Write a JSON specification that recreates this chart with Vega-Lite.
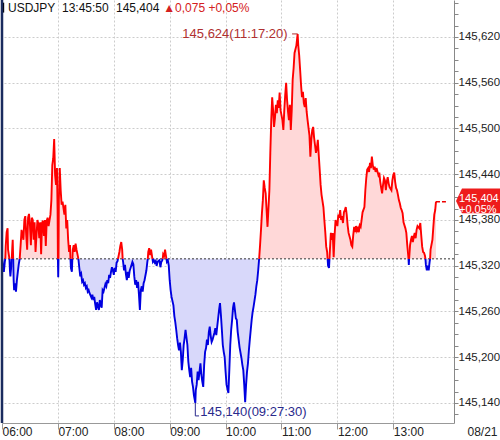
{
"$schema":"https://vega.github.io/schema/vega-lite/v6.json",
"autosize":{"type":"none"},
"padding":{"left":2,"right":46,"top":0,"bottom":17},
"width":452,"height":423,
"background":"white",
"config":{"font":"Liberation Sans","view":{"stroke":null},"locale":{"number":{"decimal":",","thousands":".","grouping":[3],"currency":["",""]}}},
"resolve":{"axis":{"y":"independent"}},
"layer":[
{"data":{"format":{"parse":{"t":"utc:'%H:%M:%S'"}},"values":[
{"t":"06:00:00","p":145.329,"s":"d","g":1},{"t":"06:01:00","p":145.320,"s":"d","g":1},{"t":"06:02:00","p":145.312,"s":"d","g":1},{"t":"06:03:00","p":145.325,"s":"d","g":1},{"t":"06:03:30","p":145.329,"s":"d","g":1},
{"t":"06:03:30","p":145.329,"s":"u","g":2},{"t":"06:04:00","p":145.346,"s":"u","g":2},{"t":"06:05:00","p":145.364,"s":"u","g":2},{"t":"06:06:00","p":145.369,"s":"u","g":2},{"t":"06:06:30","p":145.341,"s":"u","g":2},{"t":"06:08:00","p":145.329,"s":"u","g":2},
{"t":"06:08:00","p":145.329,"s":"d","g":3},{"t":"06:08:30","p":145.314,"s":"d","g":3},{"t":"06:09:00","p":145.306,"s":"d","g":3},{"t":"06:10:00","p":145.320,"s":"d","g":3},{"t":"06:10:30","p":145.329,"s":"d","g":3},
{"t":"06:10:30","p":145.329,"s":"u","g":4},{"t":"06:11:00","p":145.343,"s":"u","g":4},{"t":"06:11:30","p":145.354,"s":"u","g":4},{"t":"06:12:00","p":145.329,"s":"u","g":4},
{"t":"06:12:00","p":145.329,"s":"d","g":5},{"t":"06:12:30","p":145.301,"s":"d","g":5},{"t":"06:13:00","p":145.288,"s":"d","g":5},{"t":"06:14:00","p":145.297,"s":"d","g":5},{"t":"06:15:00","p":145.286,"s":"d","g":5},{"t":"06:16:00","p":145.301,"s":"d","g":5},{"t":"06:17:00","p":145.312,"s":"d","g":5},{"t":"06:18:00","p":145.322,"s":"d","g":5},{"t":"06:19:00","p":145.329,"s":"d","g":5},
{"t":"06:19:00","p":145.329,"s":"u","g":6},{"t":"06:20:00","p":145.347,"s":"u","g":6},{"t":"06:21:00","p":145.367,"s":"u","g":6},{"t":"06:23:00","p":145.354,"s":"u","g":6},{"t":"06:24:00","p":145.380,"s":"u","g":6},{"t":"06:25:00","p":145.385,"s":"u","g":6},{"t":"06:26:00","p":145.360,"s":"u","g":6},{"t":"06:27:00","p":145.341,"s":"u","g":6},{"t":"06:28:00","p":145.383,"s":"u","g":6},{"t":"06:29:00","p":145.388,"s":"u","g":6},{"t":"06:30:00","p":145.373,"s":"u","g":6},{"t":"06:31:00","p":145.347,"s":"u","g":6},{"t":"06:32:00","p":145.383,"s":"u","g":6},{"t":"06:33:00","p":145.380,"s":"u","g":6},{"t":"06:34:00","p":145.354,"s":"u","g":6},{"t":"06:35:00","p":145.377,"s":"u","g":6},{"t":"06:36:00","p":145.338,"s":"u","g":6},{"t":"06:38:00","p":145.380,"s":"u","g":6},{"t":"06:39:00","p":145.375,"s":"u","g":6},{"t":"06:40:00","p":145.356,"s":"u","g":6},{"t":"06:41:00","p":145.377,"s":"u","g":6},{"t":"06:42:00","p":145.335,"s":"u","g":6},{"t":"06:43:00","p":145.376,"s":"u","g":6},{"t":"06:44:00","p":145.379,"s":"u","g":6},{"t":"06:45:00","p":145.359,"s":"u","g":6},{"t":"06:46:00","p":145.380,"s":"u","g":6},{"t":"06:47:00","p":145.346,"s":"u","g":6},{"t":"06:48:00","p":145.379,"s":"u","g":6},{"t":"06:49:00","p":145.383,"s":"u","g":6},{"t":"06:50:00","p":145.372,"s":"u","g":6},{"t":"06:52:00","p":145.387,"s":"u","g":6},{"t":"06:53:00","p":145.406,"s":"u","g":6},{"t":"06:54:00","p":145.452,"s":"u","g":6},{"t":"06:55:00","p":145.461,"s":"u","g":6},{"t":"06:56:00","p":145.486,"s":"u","g":6},{"t":"06:57:00","p":145.439,"s":"u","g":6},{"t":"06:58:00","p":145.426,"s":"u","g":6},{"t":"06:59:00","p":145.448,"s":"u","g":6},{"t":"06:59:40","p":145.393,"s":"u","g":6},{"t":"07:00:00","p":145.329,"s":"u","g":6},
{"t":"07:00:00","p":145.329,"s":"d","g":7},{"t":"07:00:20","p":145.305,"s":"d","g":7},{"t":"07:00:40","p":145.329,"s":"d","g":7},
{"t":"07:00:40","p":145.329,"s":"u","g":8},{"t":"07:01:00","p":145.406,"s":"u","g":8},{"t":"07:02:00","p":145.448,"s":"u","g":8},{"t":"07:03:00","p":145.419,"s":"u","g":8},{"t":"07:04:00","p":145.400,"s":"u","g":8},{"t":"07:05:00","p":145.404,"s":"u","g":8},{"t":"07:07:00","p":145.387,"s":"u","g":8},{"t":"07:08:00","p":145.400,"s":"u","g":8},{"t":"07:09:00","p":145.369,"s":"u","g":8},{"t":"07:10:00","p":145.380,"s":"u","g":8},{"t":"07:11:00","p":145.354,"s":"u","g":8},{"t":"07:12:00","p":145.338,"s":"u","g":8},{"t":"07:13:00","p":145.347,"s":"u","g":8},{"t":"07:13:30","p":145.329,"s":"u","g":8},
{"t":"07:13:30","p":145.329,"s":"d","g":9},{"t":"07:14:00","p":145.317,"s":"d","g":9},{"t":"07:15:00","p":145.312,"s":"d","g":9},{"t":"07:15:30","p":145.329,"s":"d","g":9},
{"t":"07:15:30","p":145.329,"s":"u","g":10},{"t":"07:16:00","p":145.341,"s":"u","g":10},{"t":"07:17:00","p":145.347,"s":"u","g":10},{"t":"07:18:00","p":145.338,"s":"u","g":10},{"t":"07:19:00","p":145.349,"s":"u","g":10},{"t":"07:20:00","p":145.341,"s":"u","g":10},{"t":"07:22:00","p":145.329,"s":"u","g":10},
{"t":"07:22:00","p":145.329,"s":"d","g":11},{"t":"07:23:00","p":145.317,"s":"d","g":11},{"t":"07:24:00","p":145.306,"s":"d","g":11},{"t":"07:25:00","p":145.309,"s":"d","g":11},{"t":"07:26:00","p":145.299,"s":"d","g":11},{"t":"07:27:00","p":145.301,"s":"d","g":11},{"t":"07:28:00","p":145.295,"s":"d","g":11},{"t":"07:29:00","p":145.297,"s":"d","g":11},{"t":"07:30:00","p":145.291,"s":"d","g":11},{"t":"07:31:00","p":145.293,"s":"d","g":11},{"t":"07:32:00","p":145.286,"s":"d","g":11},{"t":"07:33:00","p":145.288,"s":"d","g":11},{"t":"07:34:00","p":145.284,"s":"d","g":11},{"t":"07:36:00","p":145.278,"s":"d","g":11},{"t":"07:37:00","p":145.282,"s":"d","g":11},{"t":"07:38:00","p":145.275,"s":"d","g":11},{"t":"07:39:00","p":145.279,"s":"d","g":11},{"t":"07:40:00","p":145.270,"s":"d","g":11},{"t":"07:41:00","p":145.262,"s":"d","g":11},{"t":"07:42:00","p":145.272,"s":"d","g":11},{"t":"07:43:00","p":145.267,"s":"d","g":11},{"t":"07:44:00","p":145.262,"s":"d","g":11},{"t":"07:45:00","p":145.275,"s":"d","g":11},{"t":"07:46:00","p":145.268,"s":"d","g":11},{"t":"07:47:00","p":145.265,"s":"d","g":11},{"t":"07:48:00","p":145.288,"s":"d","g":11},{"t":"07:49:00","p":145.286,"s":"d","g":11},{"t":"07:51:00","p":145.296,"s":"d","g":11},{"t":"07:52:00","p":145.293,"s":"d","g":11},{"t":"07:53:00","p":145.301,"s":"d","g":11},{"t":"07:54:00","p":145.297,"s":"d","g":11},{"t":"07:55:00","p":145.308,"s":"d","g":11},{"t":"07:56:00","p":145.304,"s":"d","g":11},{"t":"07:57:00","p":145.312,"s":"d","g":11},{"t":"07:58:00","p":145.318,"s":"d","g":11},{"t":"07:59:00","p":145.314,"s":"d","g":11},{"t":"08:00:00","p":145.308,"s":"d","g":11},{"t":"08:01:00","p":145.317,"s":"d","g":11},{"t":"08:02:00","p":145.312,"s":"d","g":11},{"t":"08:03:00","p":145.324,"s":"d","g":11},{"t":"08:04:00","p":145.326,"s":"d","g":11},{"t":"08:04:30","p":145.329,"s":"d","g":11},
{"t":"08:04:30","p":145.329,"s":"u","g":12},{"t":"08:06:00","p":145.338,"s":"u","g":12},{"t":"08:07:00","p":145.346,"s":"u","g":12},{"t":"08:08:00","p":145.351,"s":"u","g":12},{"t":"08:09:00","p":145.341,"s":"u","g":12},{"t":"08:09:30","p":145.329,"s":"u","g":12},
{"t":"08:09:30","p":145.329,"s":"d","g":13},{"t":"08:10:00","p":145.325,"s":"d","g":13},{"t":"08:11:00","p":145.314,"s":"d","g":13},{"t":"08:12:00","p":145.321,"s":"d","g":13},{"t":"08:13:00","p":145.309,"s":"d","g":13},{"t":"08:14:00","p":145.301,"s":"d","g":13},{"t":"08:15:00","p":145.312,"s":"d","g":13},{"t":"08:16:00","p":145.304,"s":"d","g":13},{"t":"08:17:00","p":145.313,"s":"d","g":13},{"t":"08:18:00","p":145.317,"s":"d","g":13},{"t":"08:20:00","p":145.325,"s":"d","g":13},{"t":"08:21:00","p":145.322,"s":"d","g":13},{"t":"08:22:00","p":145.306,"s":"d","g":13},{"t":"08:23:00","p":145.295,"s":"d","g":13},{"t":"08:24:00","p":145.301,"s":"d","g":13},{"t":"08:25:00","p":145.291,"s":"d","g":13},{"t":"08:26:00","p":145.299,"s":"d","g":13},{"t":"08:27:00","p":145.282,"s":"d","g":13},{"t":"08:28:00","p":145.262,"s":"d","g":13},{"t":"08:29:00","p":145.288,"s":"d","g":13},{"t":"08:30:00","p":145.293,"s":"d","g":13},{"t":"08:31:00","p":145.286,"s":"d","g":13},{"t":"08:32:00","p":145.297,"s":"d","g":13},{"t":"08:33:00","p":145.301,"s":"d","g":13},{"t":"08:35:00","p":145.314,"s":"d","g":13},{"t":"08:36:00","p":145.325,"s":"d","g":13},{"t":"08:36:30","p":145.329,"s":"d","g":13},
{"t":"08:36:30","p":145.329,"s":"u","g":14},{"t":"08:37:00","p":145.338,"s":"u","g":14},{"t":"08:38:00","p":145.343,"s":"u","g":14},{"t":"08:39:00","p":145.334,"s":"u","g":14},{"t":"08:40:00","p":145.341,"s":"u","g":14},{"t":"08:41:00","p":145.333,"s":"u","g":14},{"t":"08:41:30","p":145.329,"s":"u","g":14},
{"t":"08:41:30","p":145.329,"s":"d","g":15},{"t":"08:42:00","p":145.325,"s":"d","g":15},{"t":"08:43:00","p":145.327,"s":"d","g":15},{"t":"08:44:00","p":145.324,"s":"d","g":15},{"t":"08:45:00","p":145.326,"s":"d","g":15},{"t":"08:46:00","p":145.320,"s":"d","g":15},{"t":"08:47:00","p":145.325,"s":"d","g":15},{"t":"08:49:00","p":145.327,"s":"d","g":15},{"t":"08:50:00","p":145.318,"s":"d","g":15},{"t":"08:51:00","p":145.325,"s":"d","g":15},{"t":"08:52:00","p":145.327,"s":"d","g":15},{"t":"08:52:30","p":145.329,"s":"d","g":15},
{"t":"08:52:30","p":145.329,"s":"u","g":16},{"t":"08:53:00","p":145.335,"s":"u","g":16},{"t":"08:54:00","p":145.333,"s":"u","g":16},{"t":"08:55:00","p":145.341,"s":"u","g":16},{"t":"08:56:00","p":145.333,"s":"u","g":16},{"t":"08:56:30","p":145.329,"s":"u","g":16},
{"t":"08:56:30","p":145.329,"s":"d","g":17},{"t":"08:57:00","p":145.325,"s":"d","g":17},{"t":"08:58:00","p":145.327,"s":"d","g":17},{"t":"08:59:00","p":145.320,"s":"d","g":17},{"t":"09:00:00","p":145.301,"s":"d","g":17},{"t":"09:01:00","p":145.288,"s":"d","g":17},{"t":"09:02:00","p":145.279,"s":"d","g":17},{"t":"09:04:00","p":145.268,"s":"d","g":17},{"t":"09:05:00","p":145.254,"s":"d","g":17},{"t":"09:06:00","p":145.246,"s":"d","g":17},{"t":"09:07:00","p":145.236,"s":"d","g":17},{"t":"09:08:00","p":145.225,"s":"d","g":17},{"t":"09:09:00","p":145.216,"s":"d","g":17},{"t":"09:10:00","p":145.209,"s":"d","g":17},{"t":"09:11:00","p":145.219,"s":"d","g":17},{"t":"09:12:00","p":145.207,"s":"d","g":17},{"t":"09:13:00","p":145.183,"s":"d","g":17},{"t":"09:14:00","p":145.196,"s":"d","g":17},{"t":"09:15:00","p":145.216,"s":"d","g":17},{"t":"09:16:00","p":145.225,"s":"d","g":17},{"t":"09:17:00","p":145.236,"s":"d","g":17},{"t":"09:19:00","p":145.216,"s":"d","g":17},{"t":"09:20:00","p":145.194,"s":"d","g":17},{"t":"09:21:00","p":145.183,"s":"d","g":17},{"t":"09:22:00","p":145.174,"s":"d","g":17},{"t":"09:23:00","p":145.186,"s":"d","g":17},{"t":"09:24:00","p":145.168,"s":"d","g":17},{"t":"09:25:00","p":145.161,"s":"d","g":17},{"t":"09:26:00","p":145.150,"s":"d","g":17},{"t":"09:27:30","p":145.140,"s":"d","g":17},{"t":"09:28:00","p":145.157,"s":"d","g":17},{"t":"09:29:00","p":145.164,"s":"d","g":17},{"t":"09:30:00","p":145.181,"s":"d","g":17},{"t":"09:31:00","p":145.170,"s":"d","g":17},{"t":"09:33:00","p":145.192,"s":"d","g":17},{"t":"09:34:00","p":145.177,"s":"d","g":17},{"t":"09:35:00","p":145.168,"s":"d","g":17},{"t":"09:36:00","p":145.161,"s":"d","g":17},{"t":"09:37:00","p":145.190,"s":"d","g":17},{"t":"09:38:00","p":145.207,"s":"d","g":17},{"t":"09:39:00","p":145.212,"s":"d","g":17},{"t":"09:40:00","p":145.223,"s":"d","g":17},{"t":"09:41:00","p":145.216,"s":"d","g":17},{"t":"09:42:00","p":145.233,"s":"d","g":17},{"t":"09:43:00","p":145.240,"s":"d","g":17},{"t":"09:44:00","p":145.228,"s":"d","g":17},{"t":"09:45:00","p":145.220,"s":"d","g":17},{"t":"09:46:00","p":145.223,"s":"d","g":17},{"t":"09:48:00","p":145.232,"s":"d","g":17},{"t":"09:49:00","p":145.238,"s":"d","g":17},{"t":"09:50:00","p":145.229,"s":"d","g":17},{"t":"09:51:00","p":145.240,"s":"d","g":17},{"t":"09:52:00","p":145.251,"s":"d","g":17},{"t":"09:53:00","p":145.262,"s":"d","g":17},{"t":"09:54:00","p":145.271,"s":"d","g":17},{"t":"09:55:00","p":145.255,"s":"d","g":17},{"t":"09:56:00","p":145.236,"s":"d","g":17},{"t":"09:57:00","p":145.216,"s":"d","g":17},{"t":"09:58:00","p":145.207,"s":"d","g":17},{"t":"09:59:00","p":145.200,"s":"d","g":17},{"t":"10:00:00","p":145.181,"s":"d","g":17},{"t":"10:01:00","p":145.164,"s":"d","g":17},{"t":"10:03:00","p":145.153,"s":"d","g":17},{"t":"10:04:00","p":145.183,"s":"d","g":17},{"t":"10:05:00","p":145.216,"s":"d","g":17},{"t":"10:06:00","p":145.236,"s":"d","g":17},{"t":"10:07:00","p":145.249,"s":"d","g":17},{"t":"10:08:00","p":145.265,"s":"d","g":17},{"t":"10:09:00","p":145.272,"s":"d","g":17},{"t":"10:10:00","p":145.262,"s":"d","g":17},{"t":"10:11:00","p":145.251,"s":"d","g":17},{"t":"10:12:00","p":145.249,"s":"d","g":17},{"t":"10:13:00","p":145.233,"s":"d","g":17},{"t":"10:14:00","p":145.223,"s":"d","g":17},{"t":"10:15:00","p":145.213,"s":"d","g":17},{"t":"10:17:00","p":145.199,"s":"d","g":17},{"t":"10:18:00","p":145.190,"s":"d","g":17},{"t":"10:19:00","p":145.183,"s":"d","g":17},{"t":"10:20:00","p":145.164,"s":"d","g":17},{"t":"10:21:00","p":145.141,"s":"d","g":17},{"t":"10:22:00","p":145.164,"s":"d","g":17},{"t":"10:23:00","p":145.181,"s":"d","g":17},{"t":"10:24:00","p":145.192,"s":"d","g":17},{"t":"10:25:00","p":145.209,"s":"d","g":17},{"t":"10:26:00","p":145.223,"s":"d","g":17},{"t":"10:27:00","p":145.236,"s":"d","g":17},{"t":"10:28:00","p":145.249,"s":"d","g":17},{"t":"10:29:00","p":145.259,"s":"d","g":17},{"t":"10:30:00","p":145.266,"s":"d","g":17},{"t":"10:32:00","p":145.282,"s":"d","g":17},{"t":"10:33:00","p":145.293,"s":"d","g":17},{"t":"10:34:00","p":145.301,"s":"d","g":17},{"t":"10:35:00","p":145.314,"s":"d","g":17},{"t":"10:36:00","p":145.329,"s":"d","g":17},
{"t":"10:36:00","p":145.329,"s":"u","g":18},{"t":"10:37:00","p":145.347,"s":"u","g":18},{"t":"10:38:00","p":145.367,"s":"u","g":18},{"t":"10:39:00","p":145.389,"s":"u","g":18},{"t":"10:40:00","p":145.406,"s":"u","g":18},{"t":"10:41:00","p":145.432,"s":"u","g":18},{"t":"10:42:00","p":145.422,"s":"u","g":18},{"t":"10:43:00","p":145.415,"s":"u","g":18},{"t":"10:44:00","p":145.393,"s":"u","g":18},{"t":"10:45:00","p":145.371,"s":"u","g":18},{"t":"10:47:00","p":145.419,"s":"u","g":18},{"t":"10:48:00","p":145.468,"s":"u","g":18},{"t":"10:49:00","p":145.511,"s":"u","g":18},{"t":"10:50:00","p":145.541,"s":"u","g":18},{"t":"10:51:00","p":145.524,"s":"u","g":18},{"t":"10:52:00","p":145.502,"s":"u","g":18},{"t":"10:53:00","p":145.514,"s":"u","g":18},{"t":"10:54:00","p":145.531,"s":"u","g":18},{"t":"10:55:00","p":145.520,"s":"u","g":18},{"t":"10:56:00","p":145.537,"s":"u","g":18},{"t":"10:57:00","p":145.527,"s":"u","g":18},{"t":"10:58:00","p":145.547,"s":"u","g":18},{"t":"10:59:00","p":145.524,"s":"u","g":18},{"t":"11:01:00","p":145.511,"s":"u","g":18},{"t":"11:02:00","p":145.498,"s":"u","g":18},{"t":"11:03:00","p":145.524,"s":"u","g":18},{"t":"11:04:00","p":145.544,"s":"u","g":18},{"t":"11:05:00","p":145.560,"s":"u","g":18},{"t":"11:06:00","p":145.537,"s":"u","g":18},{"t":"11:07:00","p":145.522,"s":"u","g":18},{"t":"11:08:00","p":145.511,"s":"u","g":18},{"t":"11:09:00","p":145.531,"s":"u","g":18},{"t":"11:10:00","p":145.498,"s":"u","g":18},{"t":"11:11:00","p":145.524,"s":"u","g":18},{"t":"11:12:00","p":145.564,"s":"u","g":18},{"t":"11:13:00","p":145.579,"s":"u","g":18},{"t":"11:14:00","p":145.599,"s":"u","g":18},{"t":"11:16:00","p":145.609,"s":"u","g":18},{"t":"11:17:20","p":145.624,"s":"u","g":18},{"t":"11:18:00","p":145.609,"s":"u","g":18},{"t":"11:19:00","p":145.596,"s":"u","g":18},{"t":"11:20:00","p":145.577,"s":"u","g":18},{"t":"11:21:00","p":145.557,"s":"u","g":18},{"t":"11:22:00","p":145.541,"s":"u","g":18},{"t":"11:23:00","p":145.548,"s":"u","g":18},{"t":"11:24:00","p":145.533,"s":"u","g":18},{"t":"11:25:00","p":145.528,"s":"u","g":18},{"t":"11:26:00","p":145.540,"s":"u","g":18},{"t":"11:27:00","p":145.522,"s":"u","g":18},{"t":"11:28:00","p":145.511,"s":"u","g":18},{"t":"11:30:00","p":145.491,"s":"u","g":18},{"t":"11:31:00","p":145.463,"s":"u","g":18},{"t":"11:32:00","p":145.485,"s":"u","g":18},{"t":"11:33:00","p":145.498,"s":"u","g":18},{"t":"11:34:00","p":145.502,"s":"u","g":18},{"t":"11:35:00","p":145.488,"s":"u","g":18},{"t":"11:36:00","p":145.478,"s":"u","g":18},{"t":"11:37:00","p":145.468,"s":"u","g":18},{"t":"11:38:00","p":145.474,"s":"u","g":18},{"t":"11:39:00","p":145.485,"s":"u","g":18},{"t":"11:40:00","p":145.465,"s":"u","g":18},{"t":"11:41:00","p":145.446,"s":"u","g":18},{"t":"11:42:00","p":145.426,"s":"u","g":18},{"t":"11:43:00","p":145.413,"s":"u","g":18},{"t":"11:45:00","p":145.397,"s":"u","g":18},{"t":"11:46:00","p":145.380,"s":"u","g":18},{"t":"11:47:00","p":145.364,"s":"u","g":18},{"t":"11:48:00","p":145.345,"s":"u","g":18},{"t":"11:49:00","p":145.338,"s":"u","g":18},{"t":"11:49:30","p":145.329,"s":"u","g":18},
{"t":"11:49:30","p":145.329,"s":"d","g":19},{"t":"11:50:00","p":145.320,"s":"d","g":19},{"t":"11:51:00","p":145.317,"s":"d","g":19},{"t":"11:51:30","p":145.329,"s":"d","g":19},
{"t":"11:51:30","p":145.329,"s":"u","g":20},{"t":"11:52:00","p":145.341,"s":"u","g":20},{"t":"11:53:00","p":145.363,"s":"u","g":20},{"t":"11:54:00","p":145.354,"s":"u","g":20},{"t":"11:55:00","p":145.363,"s":"u","g":20},{"t":"11:56:00","p":145.331,"s":"u","g":20},{"t":"11:57:00","p":145.360,"s":"u","g":20},{"t":"11:58:00","p":145.380,"s":"u","g":20},{"t":"12:00:00","p":145.372,"s":"u","g":20},{"t":"12:01:00","p":145.387,"s":"u","g":20},{"t":"12:02:00","p":145.383,"s":"u","g":20},{"t":"12:03:00","p":145.393,"s":"u","g":20},{"t":"12:04:00","p":145.380,"s":"u","g":20},{"t":"12:05:00","p":145.385,"s":"u","g":20},{"t":"12:06:00","p":145.376,"s":"u","g":20},{"t":"12:07:00","p":145.390,"s":"u","g":20},{"t":"12:08:00","p":145.393,"s":"u","g":20},{"t":"12:09:00","p":145.397,"s":"u","g":20},{"t":"12:10:00","p":145.387,"s":"u","g":20},{"t":"12:11:00","p":145.373,"s":"u","g":20},{"t":"12:12:00","p":145.363,"s":"u","g":20},{"t":"12:14:00","p":145.354,"s":"u","g":20},{"t":"12:15:00","p":145.347,"s":"u","g":20},{"t":"12:16:00","p":145.345,"s":"u","g":20},{"t":"12:17:00","p":145.360,"s":"u","g":20},{"t":"12:18:00","p":145.371,"s":"u","g":20},{"t":"12:19:00","p":145.364,"s":"u","g":20},{"t":"12:20:00","p":145.372,"s":"u","g":20},{"t":"12:21:00","p":145.366,"s":"u","g":20},{"t":"12:22:00","p":145.369,"s":"u","g":20},{"t":"12:23:00","p":145.364,"s":"u","g":20},{"t":"12:24:00","p":145.373,"s":"u","g":20},{"t":"12:25:00","p":145.371,"s":"u","g":20},{"t":"12:26:00","p":145.380,"s":"u","g":20},{"t":"12:27:00","p":145.390,"s":"u","g":20},{"t":"12:29:00","p":145.397,"s":"u","g":20},{"t":"12:30:00","p":145.419,"s":"u","g":20},{"t":"12:31:00","p":145.435,"s":"u","g":20},{"t":"12:32:00","p":145.446,"s":"u","g":20},{"t":"12:33:00","p":145.448,"s":"u","g":20},{"t":"12:34:00","p":145.443,"s":"u","g":20},{"t":"12:35:00","p":145.455,"s":"u","g":20},{"t":"12:36:00","p":145.448,"s":"u","g":20},{"t":"12:37:00","p":145.463,"s":"u","g":20},{"t":"12:38:00","p":145.452,"s":"u","g":20},{"t":"12:39:00","p":145.446,"s":"u","g":20},{"t":"12:40:00","p":145.450,"s":"u","g":20},{"t":"12:41:00","p":145.443,"s":"u","g":20},{"t":"12:42:00","p":145.448,"s":"u","g":20},{"t":"12:44:00","p":145.439,"s":"u","g":20},{"t":"12:45:00","p":145.442,"s":"u","g":20},{"t":"12:46:00","p":145.430,"s":"u","g":20},{"t":"12:47:00","p":145.422,"s":"u","g":20},{"t":"12:48:00","p":145.415,"s":"u","g":20},{"t":"12:49:00","p":145.426,"s":"u","g":20},{"t":"12:50:00","p":145.435,"s":"u","g":20},{"t":"12:51:00","p":145.432,"s":"u","g":20},{"t":"12:52:00","p":145.419,"s":"u","g":20},{"t":"12:53:00","p":145.430,"s":"u","g":20},{"t":"12:54:00","p":145.436,"s":"u","g":20},{"t":"12:55:00","p":145.428,"s":"u","g":20},{"t":"12:56:00","p":145.423,"s":"u","g":20},{"t":"12:58:00","p":145.419,"s":"u","g":20},{"t":"12:59:00","p":145.432,"s":"u","g":20},{"t":"13:00:00","p":145.439,"s":"u","g":20},{"t":"13:01:00","p":145.442,"s":"u","g":20},{"t":"13:02:00","p":145.430,"s":"u","g":20},{"t":"13:03:00","p":145.422,"s":"u","g":20},{"t":"13:04:00","p":145.419,"s":"u","g":20},{"t":"13:05:00","p":145.413,"s":"u","g":20},{"t":"13:06:00","p":145.406,"s":"u","g":20},{"t":"13:07:00","p":145.402,"s":"u","g":20},{"t":"13:08:00","p":145.396,"s":"u","g":20},{"t":"13:09:00","p":145.393,"s":"u","g":20},{"t":"13:10:00","p":145.389,"s":"u","g":20},{"t":"13:11:00","p":145.377,"s":"u","g":20},{"t":"13:13:00","p":145.369,"s":"u","g":20},{"t":"13:14:00","p":145.363,"s":"u","g":20},{"t":"13:15:00","p":145.347,"s":"u","g":20},{"t":"13:16:00","p":145.334,"s":"u","g":20},{"t":"13:16:20","p":145.329,"s":"u","g":20},
{"t":"13:16:20","p":145.329,"s":"d","g":21},{"t":"13:16:40","p":145.321,"s":"d","g":21},{"t":"13:17:00","p":145.329,"s":"d","g":21},
{"t":"13:17:00","p":145.329,"s":"u","g":22},{"t":"13:18:00","p":145.347,"s":"u","g":22},{"t":"13:19:00","p":145.354,"s":"u","g":22},{"t":"13:20:00","p":145.359,"s":"u","g":22},{"t":"13:21:00","p":145.351,"s":"u","g":22},{"t":"13:22:00","p":145.358,"s":"u","g":22},{"t":"13:23:00","p":145.363,"s":"u","g":22},{"t":"13:24:00","p":145.356,"s":"u","g":22},{"t":"13:25:00","p":145.367,"s":"u","g":22},{"t":"13:26:00","p":145.372,"s":"u","g":22},{"t":"13:28:00","p":145.369,"s":"u","g":22},{"t":"13:29:00","p":145.376,"s":"u","g":22},{"t":"13:30:00","p":145.360,"s":"u","g":22},{"t":"13:31:00","p":145.345,"s":"u","g":22},{"t":"13:32:00","p":145.338,"s":"u","g":22},{"t":"13:33:00","p":145.337,"s":"u","g":22},{"t":"13:34:00","p":145.333,"s":"u","g":22},{"t":"13:34:30","p":145.329,"s":"u","g":22},
{"t":"13:34:30","p":145.329,"s":"d","g":23},{"t":"13:35:00","p":145.321,"s":"d","g":23},{"t":"13:36:00","p":145.314,"s":"d","g":23},{"t":"13:37:00","p":145.320,"s":"d","g":23},{"t":"13:38:00","p":145.314,"s":"d","g":23},{"t":"13:39:00","p":145.325,"s":"d","g":23},{"t":"13:39:30","p":145.329,"s":"d","g":23},
{"t":"13:39:30","p":145.329,"s":"u","g":24},{"t":"13:40:00","p":145.341,"s":"u","g":24},{"t":"13:42:00","p":145.354,"s":"u","g":24},{"t":"13:43:00","p":145.371,"s":"u","g":24},{"t":"13:44:00","p":145.387,"s":"u","g":24},{"t":"13:45:00","p":145.393,"s":"u","g":24},{"t":"13:45:50","p":145.404,"s":"u","g":24}
]},
"layer":[
{"mark":{"type":"area","interpolate":"linear"},
 "encoding":{
  "x":{"field":"t","type":"temporal",
   "scale":{"type":"utc","domain":[{"year":1900,"month":1,"date":1,"hours":6,"minutes":0,"seconds":0,"utc":true},{"year":1900,"month":1,"date":1,"hours":14,"minutes":5,"seconds":10,"utc":true}]},
   "axis":{"values":[{"year":1900,"month":1,"date":1,"hours":6,"utc":true},{"year":1900,"month":1,"date":1,"hours":7,"utc":true},{"year":1900,"month":1,"date":1,"hours":8,"utc":true},{"year":1900,"month":1,"date":1,"hours":9,"utc":true},{"year":1900,"month":1,"date":1,"hours":10,"utc":true},{"year":1900,"month":1,"date":1,"hours":11,"utc":true},{"year":1900,"month":1,"date":1,"hours":12,"utc":true},{"year":1900,"month":1,"date":1,"hours":13,"utc":true}],
    "format":"%H:%M","labelAlign":"left","labelDx":1,"labelBaseline":"top","labelPadding":-3,"tickSize":6,
    "labelFontSize":12,"labelColor":"#222222","tickColor":"#999999","domainColor":"#999999",
    "grid":true,"gridColor":"#cccccc","gridDash":[2,2],"labelFlush":false,"labelOverlap":false,
    "title":"08/21","titleFontSize":12,"titleFontWeight":"normal","titleColor":"#222222",
    "titleX":495,"titleY":3,"titleAlign":"right","titleBaseline":"top","titleAnchor":"end"}},
  "y":{"field":"p","type":"quantitative",
   "scale":{"domain":[145.1137,145.6685],"zero":false,"nice":false},
   "axis":{"orient":"right","values":[145.14,145.2,145.26,145.32,145.38,145.44,145.5,145.56,145.62],"format":".3f",
    "tickSize":4,"labelPadding":0,"labelFontSize":11.5,"labelColor":"#222222","labelBaseline":"middle","labelAlign":"left",
    "tickColor":"#888888","domainColor":"#888888","labelOverlap":false,"labelFlush":false,
    "grid":true,"gridDash":[2,2],"gridColor":"#cccccc","title":null}},
  "y2":{"datum":145.329},
  "fill":{"field":"s","type":"nominal","scale":{"domain":["u","d"],"range":["#ffd8d8","#d8d8fa"]},"legend":null},
  "detail":{"field":"g","type":"nominal"}}},
{"data":{"values":[{}]},"mark":{"type":"rule","color":"#333333","strokeDash":[2,2],"strokeWidth":1},
 "encoding":{"y":{"datum":145.329}}},
{"mark":{"type":"line","interpolate":"linear","strokeWidth":1.9},
 "encoding":{
  "x":{"field":"t","type":"temporal"},
  "y":{"field":"p","type":"quantitative"},
  "stroke":{"field":"s","type":"nominal","scale":{"domain":["u","d"],"range":["#ff0000","#0000e0"]},"legend":null},
  "detail":{"field":"g","type":"nominal"}}},
{"data":{"values":[{}]},"mark":{"type":"rule","color":"#ee0000","strokeDash":[4,2],"strokeWidth":1.5},
 "encoding":{"x":{"datum":{"year":1900,"month":1,"date":1,"hours":13,"minutes":45,"seconds":50,"utc":true}},"x2":{"datum":{"year":1900,"month":1,"date":1,"hours":13,"minutes":56,"seconds":30,"utc":true}},"y":{"datum":145.404}}},
{"data":{"values":[{}]},"mark":{"type":"rule","color":"#b03030","strokeWidth":1},
 "encoding":{"x":{"datum":{"year":1900,"month":1,"date":1,"hours":11,"minutes":11,"seconds":20,"utc":true}},"x2":{"datum":{"year":1900,"month":1,"date":1,"hours":11,"minutes":17,"seconds":20,"utc":true}},"y":{"datum":145.624}}},
{"data":{"values":[{}]},"mark":{"type":"text","align":"right","baseline":"middle","dx":-10,"fontSize":13,"color":"#b03030","text":"145,624(11:17:20)"},
 "encoding":{"x":{"datum":{"year":1900,"month":1,"date":1,"hours":11,"minutes":17,"seconds":20,"utc":true}},"y":{"datum":145.624}}},
{"data":{"values":[{}]},"mark":{"type":"rule","color":"#2a2a8c","strokeWidth":1},
 "encoding":{"x":{"datum":{"year":1900,"month":1,"date":1,"hours":9,"minutes":27,"seconds":30,"utc":true}},"y":{"datum":145.140},"y2":{"datum":145.123}}},
{"data":{"values":[{}]},"mark":{"type":"rule","color":"#2a2a8c","strokeWidth":1},
 "encoding":{"x":{"datum":{"year":1900,"month":1,"date":1,"hours":9,"minutes":27,"seconds":30,"utc":true}},"x2":{"datum":{"year":1900,"month":1,"date":1,"hours":9,"minutes":31,"seconds":30,"utc":true}},"y":{"datum":145.123}}},
{"data":{"values":[{}]},"mark":{"type":"text","align":"left","baseline":"alphabetic","dx":5,"fontSize":13,"color":"#2a2a8c","text":"145,140(09:27:30)"},
 "encoding":{"x":{"datum":{"year":1900,"month":1,"date":1,"hours":9,"minutes":27,"seconds":30,"utc":true}},"y":{"datum":145.123}}},
{"data":{"values":[{}]},"mark":{"type":"text","align":"left","baseline":"middle","fontSize":12,"color":"#111111","text":"USDJPY"},
 "encoding":{"x":{"datum":{"year":1900,"month":1,"date":1,"hours":6,"minutes":6,"seconds":26,"utc":true}},"y":{"datum":145.658}}},
{"data":{"values":[{}]},"mark":{"type":"text","align":"left","baseline":"middle","fontSize":12,"color":"#111111","text":"13:45:50"},
 "encoding":{"x":{"datum":{"year":1900,"month":1,"date":1,"hours":7,"minutes":4,"seconds":24,"utc":true}},"y":{"datum":145.658}}},
{"data":{"values":[{}]},"mark":{"type":"text","align":"left","baseline":"middle","fontSize":12,"color":"#111111","text":"145,404"},
 "encoding":{"x":{"datum":{"year":1900,"month":1,"date":1,"hours":8,"minutes":2,"seconds":22,"utc":true}},"y":{"datum":145.658}}},
{"data":{"values":[{}]},"mark":{"type":"text","align":"left","baseline":"middle","fontSize":12,"color":"#d42020","text":"▲0,075 +0,05%"},
 "encoding":{"x":{"datum":{"year":1900,"month":1,"date":1,"hours":8,"minutes":53,"seconds":0,"utc":true}},"y":{"datum":145.658}}},
{"data":{"values":[{}]},"mark":{"type":"rule","color":"#000000","strokeWidth":2.5},
 "encoding":{"x":{"datum":{"year":1900,"month":1,"date":1,"hours":6,"minutes":1,"seconds":0,"utc":true}},"y":{"datum":145.665},"y2":{"datum":145.652}}},
{"data":{"values":[{}]},"mark":{"type":"rule","color":"#1a2b5e","strokeWidth":2.5},
 "encoding":{"x":{"datum":{"year":1900,"month":1,"date":1,"hours":6,"minutes":0,"seconds":0,"utc":true}}}},
{"data":{"values":[{}]},"mark":{"type":"point","filled":true,"opacity":1,"fill":"#ee1c1c","strokeWidth":0,"size":2116,"shape":"M-1,0L-0.74,-0.54L1,-0.54L1,0.54L-0.74,0.54Z"},
 "encoding":{"x":{"datum":{"year":1900,"month":1,"date":1,"hours":14,"minutes":32,"seconds":0,"utc":true}},"y":{"datum":145.405}}},
{"data":{"values":[{}]},"mark":{"type":"text","align":"left","baseline":"middle","fontSize":11,"lineHeight":11,"color":"#ffffff","text":["145,404","+0,05%"]},
 "encoding":{"x":{"datum":{"year":1900,"month":1,"date":1,"hours":14,"minutes":10,"seconds":30,"utc":true}},"y":{"datum":145.408}}}
]},
{"data":{"values":[{}]},"mark":{"type":"rule","opacity":0},
 "encoding":{"y":{"datum":145.329,"type":"quantitative","axis":{"orient":"right","values":[145.125,145.155,145.17,145.185,145.215,145.23,145.245,145.275,145.29,145.305,145.335,145.35,145.365,145.395,145.41,145.425,145.455,145.47,145.485,145.515,145.53,145.545,145.575,145.59,145.605,145.635,145.65,145.665],"labels":false,"grid":false,"domain":false,"tickSize":4,"tickColor":"#888888","title":null,"offset":0}}}}
]
}
